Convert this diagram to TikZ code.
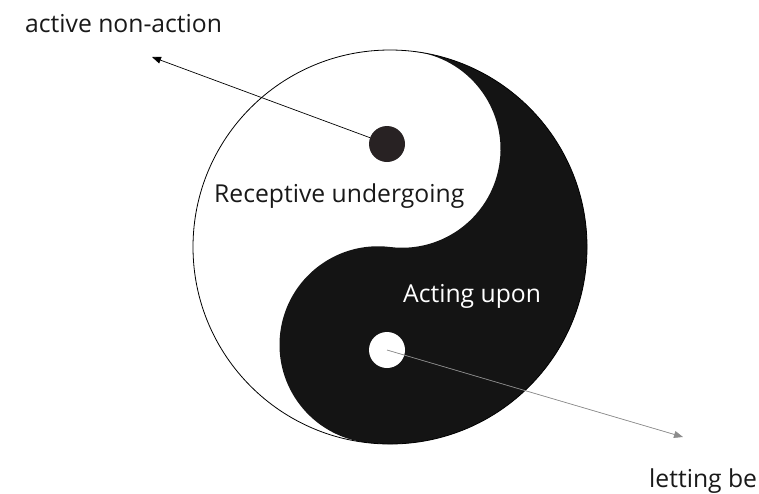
\documentclass[tikz,border=0pt]{standalone}
\usepackage{fontspec}
\setmainfont{Open Sans}
\usetikzlibrary{arrows.meta,positioning}
\definecolor{dotdark}{RGB}{40,34,35}

\begin{document}
\begin{tikzpicture}[
    x=1pt, y=1pt,
    txt/.style={anchor=base west, inner sep=0pt, text=black!90, font=\fontsize{24.7}{29}\selectfont},
    yin_dot/.style={circle, fill=#1, inner sep=0pt, minimum size=36pt},
    pointer/.style={draw, line width=0.7pt, -{Triangle[length=9pt,width=7pt]}}
  ]
  \useasboundingbox (0,0) rectangle (759,-493);
  \fill[black!92, rotate around={-7:(390,-247)}] (390,-50) arc[start angle=90, end angle=-90, radius=197]
    arc[start angle=-90, end angle=-270, radius=98.5]
    arc[start angle=-90, end angle=90, radius=98.5] -- cycle;
  \node[circle, draw, line width=0.8pt, inner sep=0pt, minimum size=394pt] (taiji) at (390,-247) {};
  \node[yin_dot=dotdark] (ydot) at (387,-144) {};
  \node[yin_dot=white] (wdot) at (387,-350) {};
  \coordinate (nonaction) at (152,-57);
  \coordinate (lettingbe) at (683,-437);
  \draw[pointer] (ydot) -- (nonaction);
  \draw[pointer, draw=black!45, fill=black!45] (wdot.center) -- (lettingbe);
  \node[txt] (activelbl) at (25,-32) {active non-action};
  \node[txt] (receptive) at (214,-202) {Receptive undergoing};
  \node[txt, text=white] (acting) at (403,-302) {Acting upon};
  \node[txt] (letting) at (649,-487) {letting be};
\end{tikzpicture}
\end{document}
